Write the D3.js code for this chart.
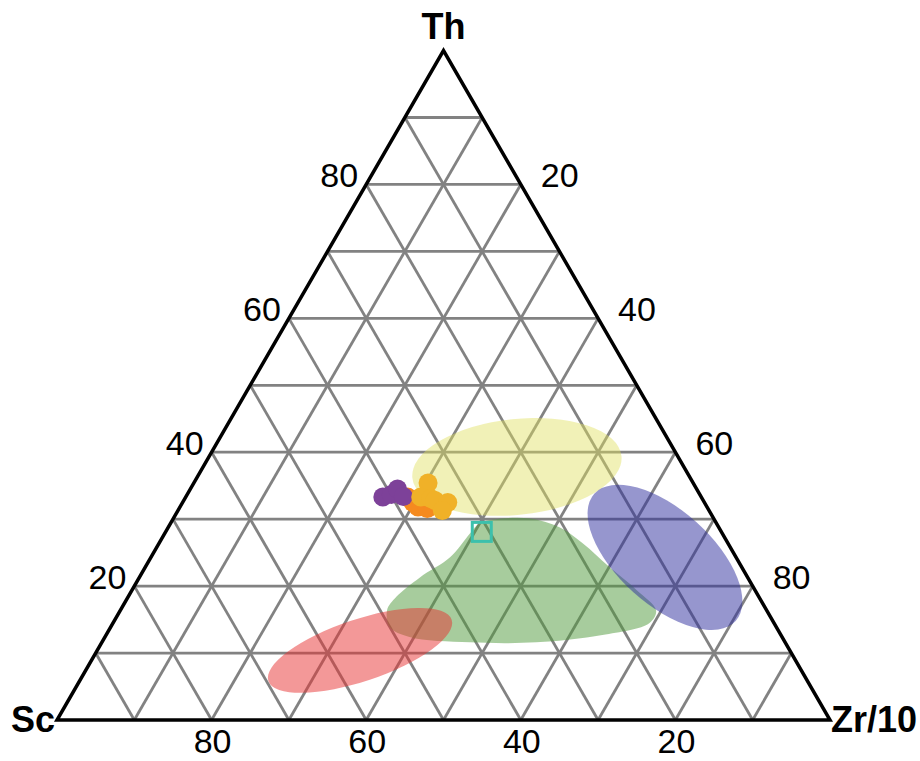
<!DOCTYPE html>
<html>
<head>
<meta charset="utf-8">
<script src="https://cdn.jsdelivr.net/npm/d3@7"></script>
<style>
  html, body { margin: 0; padding: 0; background: #fff; }
  svg { display: block; }
  text { font-family: Arial, "Liberation Sans", Helvetica, sans-serif; }
</style>
</head>
<body>
<svg id="chart" width="920" height="761"></svg>
<script>
// Ternary diagram Th – Sc – Zr/10 (values in percent)

const gridSteps = [10, 20, 30, 40, 50, 60, 70, 80, 90];
const thTicks = [20, 40, 60, 80];   // left edge
const zrTicks = [20, 40, 60, 80];   // right edge
const scTicks = [20, 40, 60, 80];   // base

const cornerLabels = ["Th", "Sc", "Zr/10"];

// Sample groups: [Th, Zr/10] (Sc = 100 - Th - Zr)
const groupPurple = [[33.3, 25.5], [33.7, 26.4], [34.5, 26.8], [33.4, 28.1]];
const groupOrange = [[33.3, 28.7], [32.5, 29.8], [31.8, 30.8], [31.6, 32.1]];
const groupGold   = [[35.4, 30.3], [33.3, 30.4], [33.1, 31.8], [32.8, 32.5], [32.5, 34.3], [31.3, 34.2]];
const referencePoint = [[28.1, 40.9]];

// Tectonic-setting fields
// ellipses: centre [Th, Zr], semi-axes (percent of side), tilt (deg)
const ellipseNames  = ["yellow", "red", "blue"];
const ellipseCentre = [[37.8, 40.6], [10.4, 34.0], [24.3, 66.5]];
const ellipseAxes   = [[13.6, 6.2], [12.5, 4.0], [12.3, 6.1]];
const ellipseTilt   = [-6, -18.5, 42];

// irregular field outline, [Th, Zr]
const greenField = [
  [24.3, 38.7], [21.3, 36.3], [18.4, 34.7], [16.4, 34.5], [13.9, 36.1],
  [12.4, 39.4], [11.6, 47.6], [11.6, 56.2], [12.7, 64.2], [14.5, 69.4],
  [16.4, 69.3], [19.4, 65.3], [22.8, 60.1], [26.4, 54.8], [28.8, 50.6],
  [30.1, 46.1], [30.1, 42.6], [29.4, 40.0], [27.9, 39.5]
];

const svg = d3.select("#chart");

const left = 57, right = 830, base = 720;
const side = right - left;
const height = side * Math.sqrt(3) / 2;

// horizontal position follows Zr + Th/2, vertical follows Th
const xs = d3.scaleLinear().domain([0, 100]).range([left, right]);
const ys = d3.scaleLinear().domain([0, 100]).range([base, base - height]);
const len = d3.scaleLinear().domain([0, 100]).range([0, side]);

const pt = (th, zr) => [xs(zr + th / 2), ys(th)];

const grid = svg.append("g")
  .attr("fill", "none")
  .attr("stroke", "#828282")
  .attr("stroke-width", 2.8);

const seg = (a, b) => grid.append("line")
  .attr("x1", a[0]).attr("y1", a[1]).attr("x2", b[0]).attr("y2", b[1]);

gridSteps.forEach(v => {
  seg(pt(v, 0), pt(v, 100 - v));      // constant Th
  seg(pt(0, v), pt(100 - v, v));      // constant Zr
  seg(pt(0, 100 - v), pt(100 - v, 0)); // constant Sc
});

// fields
const fields = svg.append("g");

fields.append("path")
  .datum(greenField)
  .attr("d", d3.line().x(d => pt(d[0], d[1])[0]).y(d => pt(d[0], d[1])[1])
    .curve(d3.curveCatmullRomClosed.alpha(0.5)))
  .attr("fill", "#4f9a3c")
  .attr("fill-opacity", 0.5);

const ellipseFill = { yellow: "#e0e060", red: "#e83232", blue: "#2e2e9e" };
const ellipseOpacity = { yellow: 0.45, red: 0.5, blue: 0.5 };

ellipseNames.forEach((name, i) => {
  const [cx, cy] = pt(ellipseCentre[i][0], ellipseCentre[i][1]);
  fields.append("ellipse")
    .attr("cx", 0).attr("cy", 0)
    .attr("rx", len(ellipseAxes[i][0]))
    .attr("ry", len(ellipseAxes[i][1]))
    .attr("transform", `translate(${cx},${cy}) rotate(${ellipseTilt[i]})`)
    .attr("fill", ellipseFill[name])
    .attr("fill-opacity", ellipseOpacity[name]);
});

// outer triangle
svg.append("path")
  .attr("d", d3.line()([pt(0, 0), pt(0, 100), pt(100, 0)]) + "Z")
  .attr("fill", "none")
  .attr("stroke", "#000")
  .attr("stroke-width", 3.5)
  .attr("stroke-linejoin", "miter");

// samples
const drawGroup = (data, colour) => svg.append("g")
  .selectAll("circle")
  .data(data)
  .join("circle")
  .attr("cx", d => pt(d[0], d[1])[0])
  .attr("cy", d => pt(d[0], d[1])[1])
  .attr("r", 9.5)
  .attr("fill", colour);

drawGroup(groupOrange, "#f58a1f");
drawGroup(groupPurple, "#7d4199");
drawGroup(groupGold, "#f0b128");

svg.append("g")
  .selectAll("rect")
  .data(referencePoint)
  .join("rect")
  .attr("x", d => pt(d[0], d[1])[0] - 9.5)
  .attr("y", d => pt(d[0], d[1])[1] - 9.5)
  .attr("width", 19)
  .attr("height", 19)
  .attr("fill", "none")
  .attr("stroke", "#3cc0ac")
  .attr("stroke-width", 3);

// tick labels
const ticks = svg.append("g")
  .attr("font-size", 34)
  .attr("fill", "#000");

thTicks.forEach(v => {
  const [x, y] = pt(v, 0);
  ticks.append("text").attr("x", x - 8).attr("y", y + 3)
    .attr("text-anchor", "end").text(v);
});
zrTicks.forEach(v => {
  const [x, y] = pt(100 - v, v);
  ticks.append("text").attr("x", x + 20).attr("y", y + 3)
    .attr("text-anchor", "start").text(v);
});
scTicks.forEach(v => {
  const [x, y] = pt(0, 100 - v);
  ticks.append("text").attr("x", x + 1).attr("y", y + 33)
    .attr("text-anchor", "middle").text(v);
});

// corner labels
const corners = svg.append("g")
  .attr("font-size", 36)
  .attr("font-weight", "bold")
  .attr("fill", "#000");

const apex = pt(100, 0), scCorner = pt(0, 0), zrCorner = pt(0, 100);
corners.append("text").attr("x", apex[0]).attr("y", apex[1] - 12)
  .attr("text-anchor", "middle").text(cornerLabels[0]);
corners.append("text").attr("x", scCorner[0] - 2).attr("y", scCorner[1] + 12)
  .attr("text-anchor", "end").text(cornerLabels[1]);
corners.append("text").attr("x", zrCorner[0] + 1).attr("y", zrCorner[1] + 12)
  .attr("text-anchor", "start").text(cornerLabels[2]);
</script>
</body>
</html>
